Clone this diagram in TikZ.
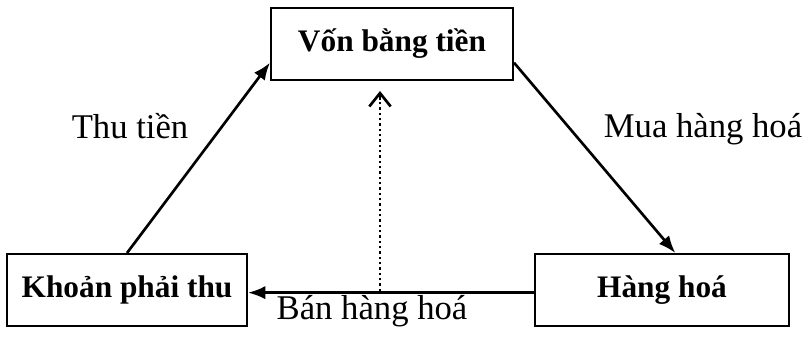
\documentclass[tikz,border=0pt]{standalone}
\usepackage{fontspec}
\setmainfont{Liberation Serif}
\usetikzlibrary{arrows.meta}

\begin{document}
\begin{tikzpicture}[x=.75pt, y=-.75pt,
    box/.style={draw, line width=1.5pt, minimum height=54pt, font=\fontsize{23.5}{28}\selectfont\bfseries},
    lbl/.style={font=\fontsize{26}{30}\selectfont},
    flow/.style={line width=2pt, -{Latex[length=13pt, width=10pt]}}]
    \useasboundingbox (0, 0) rectangle (809, 340);

    \node[box, minimum width=181.5pt] (von) at (392, 44) {Vốn bằng tiền};
    \node[box, minimum width=180pt] (kpt) at (127, 290) {Khoản phải thu};
    \node[box, minimum width=190.5pt] (hh) at (662, 290) {Hàng hoá};
    \coordinate (dbot) at (380, 291);

    \draw[flow] (kpt.north) -- ([yshift=-14pt] von.west);
    \draw[flow] ([yshift=-14pt] von.east) -- ([xshift=10pt] hh.north);
    \draw[flow] ([yshift=-2pt] hh.west) -- ([yshift=-2pt] kpt.east);
    \draw [line width=2pt, dash pattern=on 1.8pt off 2.2pt] (dbot) -- ([xshift=-9pt, yshift=-8pt] von.south);
    \draw [line width=2pt, -{Straight Barb[length=10pt, width=16pt]}] ([xshift=-9pt, yshift=-14pt] von.south) -- ([xshift=-9pt, yshift=-7.5pt] von.south);

    \node[lbl] (thu) at (130, 126) {Thu tiền};
    \node[lbl] (mua) at (703, 129) {Mua hàng hoá};
    \node[lbl] (ban) at (372, 311) {Bán hàng hoá};
\end{tikzpicture}
\end{document}
